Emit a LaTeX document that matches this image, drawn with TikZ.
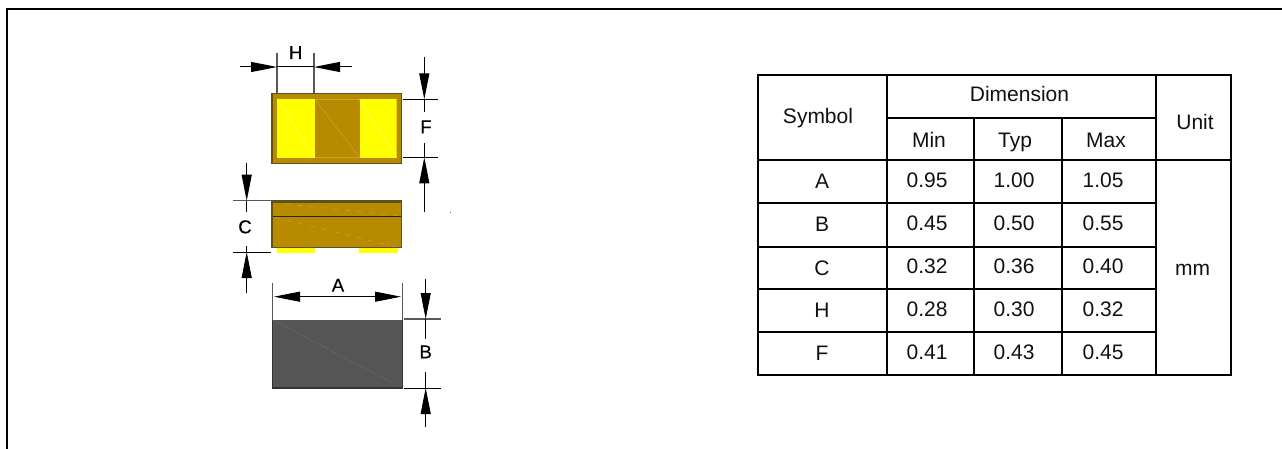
\documentclass[tikz,border=0pt]{standalone}
\usepackage{fontspec}
\setmainfont{Liberation Sans}
\newfontfamily\dimfont[FakeBold=0.35]{Liberation Sans}
\usetikzlibrary{arrows.meta}
\definecolor{gold}{HTML}{B88A00}
\definecolor{goldlight}{HTML}{C9A02C}
\definecolor{chipedge}{HTML}{5A5220}
\definecolor{padyellow}{HTML}{FFFF00}
\definecolor{paddark}{HTML}{DCDC00}
\definecolor{padglintc}{HTML}{FFFF66}
\definecolor{bottomgrey}{HTML}{555555}
\definecolor{bottomglint}{HTML}{7A7A7A}
\definecolor{txt}{HTML}{111111}
\tikzset{
  x=0.75pt,y=-0.75pt,
  frameline/.style={draw=black,line width=1.5pt},
  tableline/.style={draw=black,line width=1.5pt,line cap=rect},
  cell/.style={anchor=base,inner sep=0pt,outer sep=0pt,text=txt,font=\fontsize{15.75}{18}\selectfont},
  dimlabel/.style={anchor=base,inner sep=0pt,outer sep=0pt,text=black,font=\dimfont\fontsize{14}{16}\selectfont},
  extline/.style={draw=black!65,line width=0.8pt},
  dimline/.style={draw=black,line width=0.75pt},
  dimarrow/.style={dimline,-{Triangle[length=19.5pt,width=7.5pt]}},
  chipbody/.style={fill=gold,draw=chipedge,line width=0.8pt},
  glint/.style={draw=goldlight,line width=0.45pt},
  glintdash/.style={glint,dash pattern=on 4pt off 5pt},
  padglint/.style={draw=padglintc,line width=0.35pt},
}
\begin{document}
\begin{tikzpicture}
\useasboundingbox (0,0) rectangle (1282,449);
% frame
\draw[frameline] (7,449) -- (7,9) -- (1282,9);
% ---------- top view
\path[chipbody] (272,93.5) rectangle (401.5,163.5);
\fill[padyellow] (277,99) rectangle (315,157.7);
\fill[padyellow] (359.5,99) rectangle (395.5,157.7);
\fill[paddark] (395.5,99) rectangle (397,157.7);
\draw[glint] (315,99.3) -- (359.5,99.3) (315,157.5) -- (359.5,157.5);
\draw[glint] (315,99.3) -- (359.5,157.5);
\draw[padglint] (277,99) -- (315,157.7);
\draw[padglint] (359.5,99) -- (397,157.7);
\draw[chipedge,line width=0.8pt] (272,93.5) rectangle (401.5,163.5);
% ---------- side view
\fill[gold] (272,201) rectangle (401.5,247.7);
\fill[padyellow] (277,247.7) rectangle (315,252.7);
\fill[padyellow] (359,247.7) rectangle (397.5,252.7);
\fill[chipedge] (272,200.5) rectangle (401.5,203.5);
\draw[glintdash] (285,204) -- (397,215.5);
\draw[glintdash] (275,217.5) -- (397,247);
\draw[black!85,line width=0.8pt] (272,216.7) -- (401.5,216.7);
\draw[chipedge,line width=0.8pt] (272,201) -- (272,247.7) -- (401.5,247.7) -- (401.5,201);
% ---------- bottom view
\fill[bottomgrey] (272.7,319.7) rectangle (402.3,388);
\draw[bottomglint,line width=0.3pt,dash pattern=on 1pt off 1pt] (273,320) -- (402,388);
\draw[black!80,line width=0.8pt] (272.7,319.7) -- (272.7,388) -- (402.3,388) -- (402.3,319.7);
% ---------- H
\draw[extline] (277,53.3) -- (277,93);
\draw[extline] (314,53.3) -- (314,93);
\draw[dimarrow] (240,67) -- (277,67);
\draw[dimarrow] (352,67) -- (314,67);
\draw[dimline] (277,67) -- (314,67);
\node[dimlabel] (lblH) at (295.7,59) {H};
% ---------- F
\draw[dimline] (403,99.3) -- (437.5,99.3);
\draw[dimline] (403,157.3) -- (437.5,157.3);
\draw[dimarrow] (424.3,56.7) -- (424.3,99.3);
\draw[dimline] (424.3,99.3) -- (424.3,111.7);
\draw[dimarrow] (424.3,211.7) -- (424.3,157.3);
\draw[dimline] (424.3,157.3) -- (424.3,142.7);
\node[dimlabel] (lblF) at (426,133.3) {F};
% ---------- C
\draw[extline] (233.3,200.7) -- (272,200.7);
\draw[dimline] (233.3,252) -- (271,252);
\draw[dimarrow] (246.7,163) -- (246.7,200.7);
\draw[dimline] (246.7,200.7) -- (246.7,211.7);
\draw[dimarrow] (246.7,292.7) -- (246.7,252);
\draw[dimline] (246.7,252) -- (246.7,246);
\node[dimlabel] (lblC) at (245,233.3) {C};
% ---------- A
\draw[extline] (272.7,282.7) -- (272.7,320);
\draw[extline] (402.3,282.7) -- (402.3,320);
\draw[dimline,{Triangle[length=19.5pt,width=7.5pt]}-{Triangle[length=19.5pt,width=7.5pt]}] (274,296.7) -- (401,296.7);
\node[dimlabel] (lblA) at (338,291.7) {A};
% ---------- B
\draw[extline] (404,319) -- (440.7,319);
\draw[dimline] (404,388) -- (440.7,388);
\draw[dimarrow] (425.7,279.3) -- (425.7,319);
\draw[dimline] (425.7,319) -- (425.7,339.3);
\draw[dimarrow] (425.7,427.3) -- (425.7,388);
\draw[dimline] (425.7,388) -- (425.7,372.3);
\node[dimlabel] (lblB) at (425.7,358.3) {B};
% stray speck
\fill[black!60] (450.3,211.7) rectangle (451.3,212.7);
% ---------- table
\draw[tableline] (758,75) rectangle (1231,375);
\draw[tableline] (887,75) -- (887,375);
\draw[tableline] (974,118) -- (974,375);
\draw[tableline] (1062,118) -- (1062,375);
\draw[tableline] (1156,75) -- (1156,375);
\draw[tableline] (887,118) -- (1156,118);
\draw[tableline] (758,160) -- (1231,160);
\foreach \yy in {203,247,289,332}
  \draw[tableline] (758,\yy) -- (1156,\yy);
\node[cell] (hSym) at (818,123.6) {Symbol};
\node[cell] (hDim) at (1019.5,101.3) {Dimension};
\node[cell] (hUnit) at (1195,129.7) {Unit};
\node[cell] (hMin) at (929,147.3) {Min};
\node[cell] (hTyp) at (1015,147.6) {Typ};
\node[cell] (hMax) at (1106,147.3) {Max};
\node[cell] (sA) at (822,189) {A};
\node[cell] (sB) at (822,232) {B};
\node[cell] (sC) at (822,275) {C};
\node[cell] (sH) at (822,317.7) {H};
\node[cell] (sF) at (822,360) {F};
\node[cell] (a1) at (927,187.3) {0.95};
\node[cell] (a2) at (1014,187.3) {1.00};
\node[cell] (a3) at (1103,187.3) {1.05};
\node[cell] (b1) at (927,230.6) {0.45};
\node[cell] (b2) at (1014,230.6) {0.50};
\node[cell] (b3) at (1103,230.6) {0.55};
\node[cell] (c1) at (927,273.8) {0.32};
\node[cell] (c2) at (1014,273.8) {0.36};
\node[cell] (c3) at (1103,273.8) {0.40};
\node[cell] (d1) at (927,316.6) {0.28};
\node[cell] (d2) at (1014,316.6) {0.30};
\node[cell] (d3) at (1103,316.6) {0.32};
\node[cell] (e1) at (927,359.8) {0.41};
\node[cell] (e2) at (1014,359.8) {0.43};
\node[cell] (e3) at (1103,359.8) {0.45};
\node[cell] (uMm) at (1192.5,275) {mm};
\end{tikzpicture}
\end{document}
